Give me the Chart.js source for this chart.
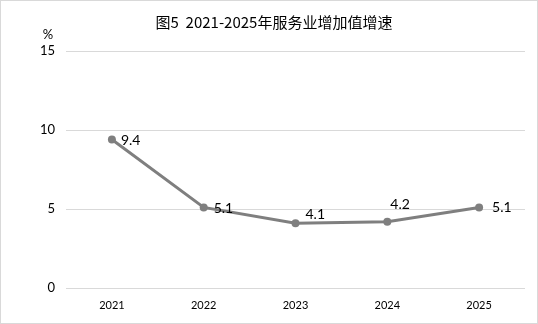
<!DOCTYPE html>
<html lang="zh">
<head>
  <meta charset="UTF-8" />
  <title>图5 2021-2025年服务业增加值增速</title>
  <script src="https://cdn.jsdelivr.net/npm/chart.js"></script>
  <style>
    html, body { margin: 0; padding: 0; background: #fff; }
    #wrap { width: 538px; height: 324px; position: relative; box-sizing: border-box; border: 1px solid #d9d9d9; }
    canvas { position: absolute; left: 0; top: 0; }
  </style>
</head>
<body>
  <div id="wrap"><canvas id="growthChart" width="538" height="324"></canvas></div>

  <script>
    const titleText = '图5  2021-2025年服务业增加值增速';
    const years = ['2021', '2022', '2023', '2024', '2025'];
    const growth = [9.4, 5.1, 4.1, 4.2, 5.1];
    const yTicks = [0, 5, 10, 15];
    // label offsets relative to each point (dx, dy)
    const labelShift = [[9, 1], [10, 1], [10, -9], [3, -17], [13, 0]];

    const numFont = 'Lato, "Noto Sans", sans-serif';

    // title, unit and value labels
    const textPlugin = {
      id: 'textPlugin',
      afterDatasetsDraw(chart) {
        const ctx = chart.ctx;
        ctx.save();
        ctx.fillStyle = '#000';
        ctx.font = '15px "Noto Sans CJK SC", sans-serif';
        ctx.textAlign = 'center';
        ctx.textBaseline = 'middle';
        ctx.fillText(titleText, 273, 21);

        ctx.font = '13px ' + numFont;
        ctx.fillText('%', 47, 34);

        ctx.font = '14px ' + numFont;
        ctx.textAlign = 'left';
        const meta = chart.getDatasetMeta(0);
        meta.data.forEach((pt, i) => {
          ctx.fillText(growth[i].toFixed(1), pt.x + labelShift[i][0], pt.y + labelShift[i][1]);
        });
        ctx.restore();
      }
    };

    new Chart(document.getElementById('growthChart'), {
      type: 'line',
      data: {
        labels: years,
        datasets: [{
          data: growth,
          borderColor: '#7f7f7f',
          backgroundColor: '#7f7f7f',
          borderWidth: 3,
          pointRadius: 4,
          pointHoverRadius: 4,
          pointBackgroundColor: '#7f7f7f',
          pointBorderWidth: 0,
          tension: 0
        }]
      },
      options: {
        responsive: false,
        animation: false,
        layout: { padding: { top: 50, right: 14, left: 0, bottom: 0 } },
        plugins: {
          legend: { display: false },
          title: { display: false },
          tooltip: { enabled: false }
        },
        scales: {
          x: {
            offset: true,
            grid: { display: false, drawTicks: false },
            border: { display: false },
            ticks: { color: '#000', font: { family: numFont, size: 11 }, padding: 11 },
            afterFit(s) { s.height = 37; }
          },
          y: {
            min: 0,
            max: 15,
            afterBuildTicks(s) { s.ticks = yTicks.map(v => ({ value: v })); },
            grid: { color: '#d9d9d9', lineWidth: 1, drawTicks: false },
            border: { display: false },
            ticks: { color: '#000', font: { family: numFont, size: 13 }, padding: 11 },
            afterFit(s) { s.width = 65; }
          }
        }
      },
      plugins: [textPlugin]
    });
  </script>
</body>
</html>
